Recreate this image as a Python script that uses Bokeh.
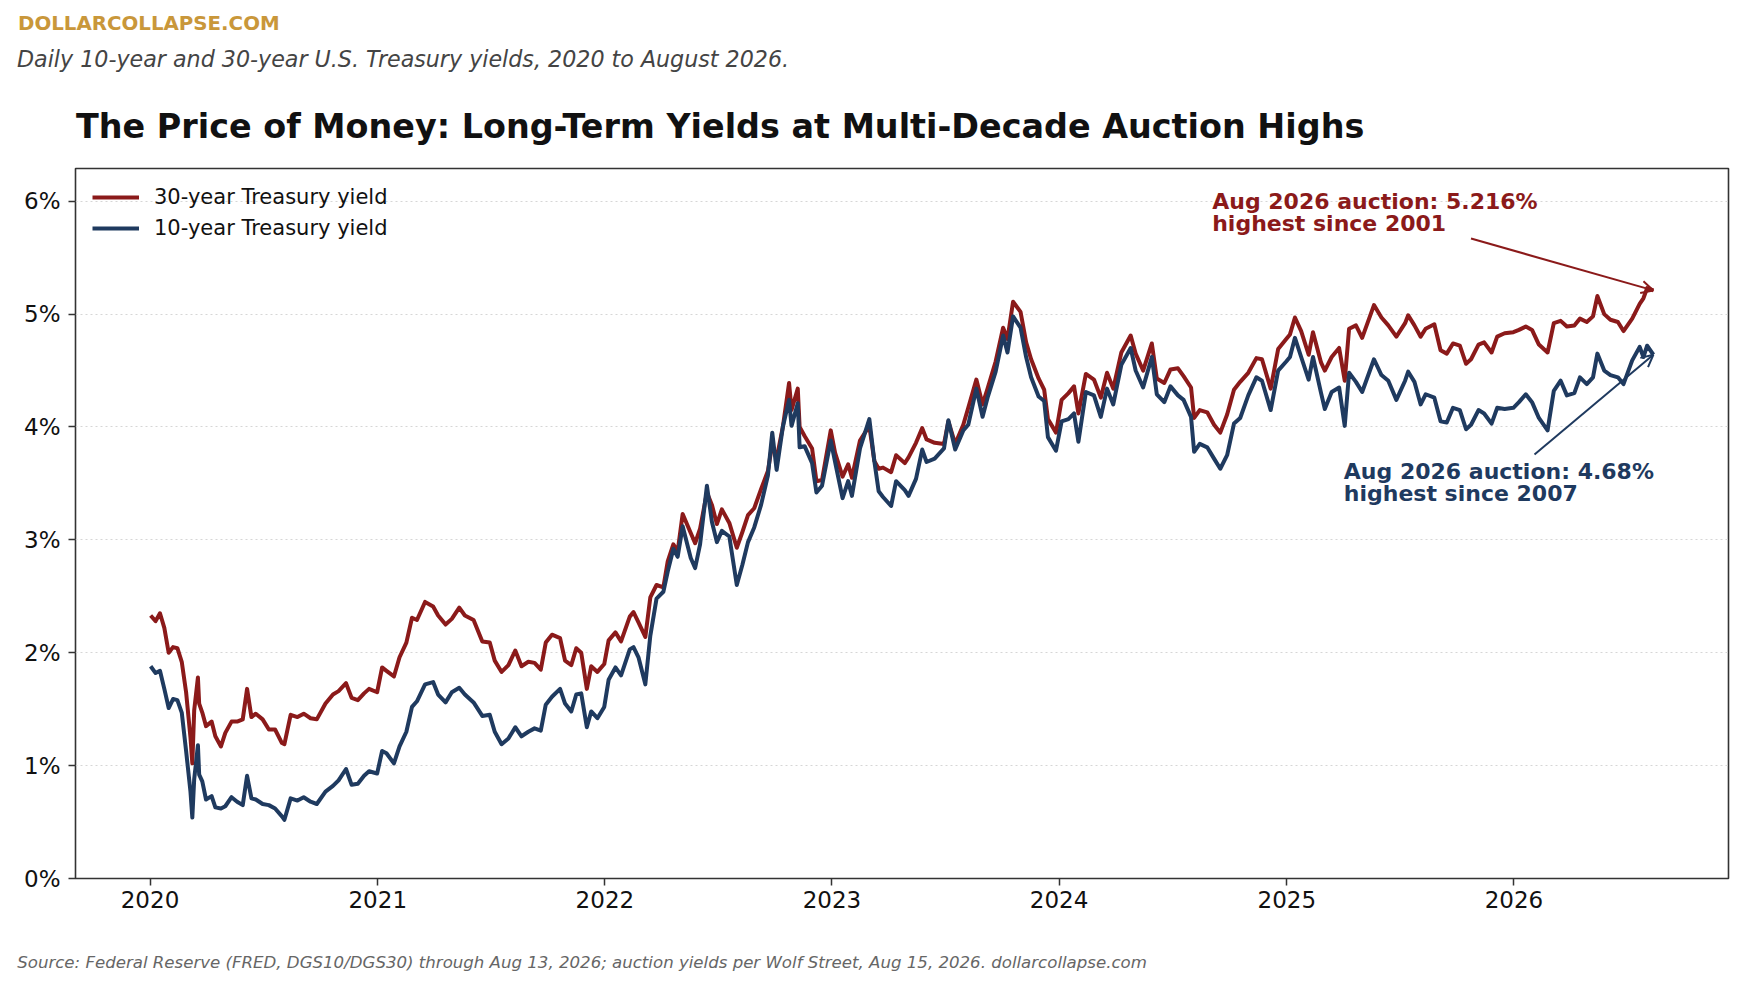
import pandas as pd
from bokeh.plotting import figure
from bokeh.models import (Range1d, FixedTicker, PrintfTickFormatter, Label,
                          Arrow, OpenHead, Title)
from bokeh.embed import file_html
from bokeh.resources import INLINE

# ---------------- data ----------------
dates = [
    # 2020
    "2020-01-02", "2020-01-10", "2020-01-17", "2020-01-24", "2020-01-31",
    "2020-02-07", "2020-02-14", "2020-02-21", "2020-02-28",
    "2020-03-06", "2020-03-09", "2020-03-12", "2020-03-18", "2020-03-20", "2020-03-25", "2020-03-31",
    "2020-04-09", "2020-04-15", "2020-04-24",
    "2020-05-01", "2020-05-11", "2020-05-20", "2020-05-29",
    "2020-06-05", "2020-06-12", "2020-06-19", "2020-06-30",
    "2020-07-10", "2020-07-20", "2020-07-31",
    "2020-08-04", "2020-08-14", "2020-08-25",
    "2020-09-04", "2020-09-15", "2020-09-25",
    "2020-10-09", "2020-10-21", "2020-10-30",
    "2020-11-11", "2020-11-20", "2020-11-30",
    "2020-12-10", "2020-12-18", "2020-12-31",
    # 2021
    "2021-01-08", "2021-01-15", "2021-01-27", "2021-02-05", "2021-02-16", "2021-02-25",
    "2021-03-05", "2021-03-18", "2021-03-31", "2021-04-08", "2021-04-20", "2021-04-30",
    "2021-05-12", "2021-05-21", "2021-06-04", "2021-06-18", "2021-06-30",
    "2021-07-08", "2021-07-19", "2021-07-30", "2021-08-10", "2021-08-20", "2021-08-31",
    "2021-09-10", "2021-09-20", "2021-09-28", "2021-10-08", "2021-10-21", "2021-10-29",
    "2021-11-08", "2021-11-16", "2021-11-24", "2021-12-03", "2021-12-10", "2021-12-20", "2021-12-31",
    # 2022
    "2022-01-07", "2022-01-18", "2022-01-27", "2022-02-10", "2022-02-16", "2022-02-24",
    "2022-03-07", "2022-03-15", "2022-03-25", "2022-04-05", "2022-04-12", "2022-04-21", "2022-04-28",
    "2022-05-06", "2022-05-19", "2022-05-26", "2022-06-03", "2022-06-14", "2022-06-22", "2022-06-30",
    "2022-07-08", "2022-07-20", "2022-08-01", "2022-08-10", "2022-08-19", "2022-08-29",
    "2022-09-09", "2022-09-20", "2022-09-27", "2022-10-04", "2022-10-14", "2022-10-24", "2022-10-28",
    "2022-11-07", "2022-11-10", "2022-11-18", "2022-11-30", "2022-12-07", "2022-12-16", "2022-12-30",
    # 2023
    "2023-01-06", "2023-01-18", "2023-01-27", "2023-02-02", "2023-02-15",
    "2023-03-02", "2023-03-10", "2023-03-17", "2023-03-24", "2023-04-06", "2023-04-14", "2023-04-28",
    "2023-05-04", "2023-05-16", "2023-05-26", "2023-06-02", "2023-06-15", "2023-06-30",
    "2023-07-07", "2023-07-18", "2023-07-31", "2023-08-08", "2023-08-21", "2023-08-31",
    "2023-09-08", "2023-09-21", "2023-10-03", "2023-10-10", "2023-10-19", "2023-10-31",
    "2023-11-09", "2023-11-17", "2023-11-29", "2023-12-08", "2023-12-14", "2023-12-27",
    # 2024
    "2024-01-05", "2024-01-16", "2024-01-25", "2024-02-01", "2024-02-13", "2024-02-26",
    "2024-03-08", "2024-03-18", "2024-03-28", "2024-04-10", "2024-04-25",
    "2024-05-03", "2024-05-15", "2024-05-29", "2024-06-06", "2024-06-18", "2024-06-28",
    "2024-07-10", "2024-07-19", "2024-07-31", "2024-08-05", "2024-08-14", "2024-08-26",
    "2024-09-06", "2024-09-16", "2024-09-27", "2024-10-08", "2024-10-18", "2024-10-31",
    "2024-11-13", "2024-11-22", "2024-12-06", "2024-12-18", "2024-12-31",
    # 2025
    "2025-01-06", "2025-01-14", "2025-01-24", "2025-02-05", "2025-02-12", "2025-02-25",
    "2025-03-03", "2025-03-14", "2025-03-26", "2025-04-04", "2025-04-11", "2025-04-22",
    "2025-05-02", "2025-05-21", "2025-06-02", "2025-06-13", "2025-06-26",
    "2025-07-10", "2025-07-15", "2025-07-25", "2025-08-04", "2025-08-12", "2025-08-26",
    "2025-09-05", "2025-09-15", "2025-09-25", "2025-10-06", "2025-10-16", "2025-10-24",
    "2025-11-05", "2025-11-14", "2025-11-26", "2025-12-05", "2025-12-17", "2025-12-31",
    # 2026
    "2026-01-09", "2026-01-20", "2026-01-30", "2026-02-10", "2026-02-24",
    "2026-03-06", "2026-03-17", "2026-03-27", "2026-04-08", "2026-04-17", "2026-04-28",
    "2026-05-08", "2026-05-15", "2026-05-26", "2026-06-05", "2026-06-17", "2026-06-26",
    "2026-07-10", "2026-07-22", "2026-07-28", "2026-08-03", "2026-08-13",
]

yield_10y = [
    # 2020
    1.88, 1.82, 1.84, 1.68, 1.51, 1.59, 1.58, 1.47, 1.13,
    0.77, 0.54, 0.88, 1.18, 0.92, 0.86, 0.70, 0.73, 0.63, 0.62,
    0.64, 0.72, 0.68, 0.65, 0.91, 0.71, 0.70, 0.66, 0.65, 0.62, 0.55,
    0.52, 0.71, 0.69, 0.72, 0.68, 0.66, 0.77, 0.82, 0.87, 0.97, 0.83, 0.84,
    0.91, 0.95, 0.93,
    # 2021
    1.13, 1.11, 1.02, 1.17, 1.30, 1.52, 1.57, 1.72, 1.74, 1.63, 1.56, 1.65,
    1.69, 1.63, 1.56, 1.44, 1.45, 1.30, 1.19, 1.24, 1.34, 1.26, 1.30,
    1.33, 1.31, 1.54, 1.61, 1.68, 1.55, 1.48, 1.63, 1.64, 1.34, 1.48, 1.42, 1.52,
    # 2022
    1.76, 1.87, 1.80, 2.03, 2.05, 1.96, 1.72, 2.15, 2.48, 2.54, 2.72, 2.92, 2.85,
    3.12, 2.84, 2.75, 2.96, 3.48, 3.16, 2.98, 3.08, 3.03, 2.60, 2.78, 2.98, 3.11,
    3.31, 3.57, 3.95, 3.62, 4.00, 4.24, 4.01, 4.21, 3.82, 3.83, 3.68, 3.42, 3.48, 3.88,
    # 2023
    3.69, 3.37, 3.52, 3.39, 3.81, 4.07, 3.70, 3.43, 3.38, 3.30, 3.52, 3.44,
    3.39, 3.54, 3.80, 3.69, 3.72, 3.81, 4.06, 3.80, 3.97, 4.02, 4.34, 4.09,
    4.26, 4.49, 4.81, 4.66, 4.98, 4.88, 4.62, 4.44, 4.27, 4.23, 3.91, 3.79,
    # 2024
    4.05, 4.07, 4.12, 3.87, 4.31, 4.28, 4.09, 4.34, 4.20, 4.55, 4.70,
    4.50, 4.35, 4.62, 4.29, 4.22, 4.36, 4.28, 4.24, 4.09, 3.78, 3.85, 3.82,
    3.72, 3.63, 3.75, 4.03, 4.08, 4.28, 4.44, 4.41, 4.15, 4.50, 4.58,
    # 2025
    4.62, 4.79, 4.62, 4.42, 4.62, 4.30, 4.16, 4.31, 4.35, 4.01, 4.48, 4.40,
    4.31, 4.60, 4.46, 4.41, 4.24, 4.41, 4.49, 4.40, 4.20, 4.29, 4.26,
    4.05, 4.04, 4.17, 4.15, 3.98, 4.02, 4.15, 4.12, 4.03, 4.17, 4.16, 4.17,
    # 2026
    4.22, 4.29, 4.22, 4.08, 3.97, 4.32, 4.41, 4.28, 4.30, 4.44, 4.38,
    4.44, 4.65, 4.50, 4.46, 4.44, 4.38, 4.59, 4.71, 4.62, 4.72, 4.64,
]

yield_30y = [
    # 2020
    2.33, 2.28, 2.35, 2.22, 2.00, 2.05, 2.04, 1.92, 1.65,
    1.25, 1.02, 1.49, 1.78, 1.55, 1.47, 1.35, 1.39, 1.26, 1.17,
    1.29, 1.39, 1.39, 1.41, 1.68, 1.43, 1.46, 1.41, 1.32, 1.32, 1.20,
    1.19, 1.45, 1.43, 1.46, 1.42, 1.41, 1.55, 1.63, 1.66, 1.73, 1.60, 1.58,
    1.64, 1.68, 1.65,
    # 2021
    1.87, 1.84, 1.79, 1.96, 2.09, 2.31, 2.29, 2.45, 2.41, 2.33, 2.25, 2.30,
    2.40, 2.33, 2.29, 2.10, 2.09, 1.93, 1.83, 1.89, 2.02, 1.88, 1.92,
    1.91, 1.85, 2.09, 2.16, 2.13, 1.93, 1.89, 2.04, 2.00, 1.68, 1.88, 1.83, 1.90,
    # 2022
    2.11, 2.18, 2.10, 2.32, 2.36, 2.27, 2.14, 2.49, 2.60, 2.58, 2.81, 2.96, 2.90,
    3.23, 3.06, 2.97, 3.10, 3.42, 3.31, 3.14, 3.27, 3.15, 2.93, 3.07, 3.22, 3.28,
    3.45, 3.61, 3.85, 3.72, 4.00, 4.39, 4.15, 4.34, 4.00, 3.92, 3.81, 3.52, 3.53, 3.97,
    # 2023
    3.77, 3.56, 3.67, 3.55, 3.88, 4.01, 3.70, 3.63, 3.64, 3.60, 3.75, 3.68,
    3.73, 3.86, 3.99, 3.89, 3.86, 3.85, 4.05, 3.85, 4.02, 4.17, 4.42, 4.20,
    4.34, 4.58, 4.88, 4.78, 5.11, 5.02, 4.75, 4.60, 4.43, 4.33, 4.07, 3.95,
    # 2024
    4.24, 4.30, 4.36, 4.12, 4.47, 4.42, 4.26, 4.48, 4.34, 4.66, 4.81,
    4.65, 4.50, 4.74, 4.43, 4.39, 4.51, 4.52, 4.45, 4.35, 4.08, 4.15, 4.13,
    4.02, 3.95, 4.11, 4.33, 4.40, 4.48, 4.61, 4.60, 4.34, 4.69, 4.78,
    # 2025
    4.82, 4.97, 4.85, 4.64, 4.84, 4.57, 4.50, 4.62, 4.70, 4.41, 4.87, 4.90,
    4.79, 5.08, 4.97, 4.90, 4.80, 4.92, 4.99, 4.90, 4.80, 4.87, 4.91,
    4.68, 4.65, 4.74, 4.72, 4.56, 4.60, 4.73, 4.75, 4.66, 4.80, 4.83, 4.84,
    # 2026
    4.86, 4.89, 4.86, 4.73, 4.66, 4.92, 4.94, 4.89, 4.90, 4.96, 4.93,
    4.98, 5.16, 5.00, 4.95, 4.93, 4.85, 4.96, 5.09, 5.14, 5.23, 5.21,
]

tick_years = [2020, 2021, 2022, 2023, 2024, 2025, 2026]
tick_pcts = [0, 1, 2, 3, 4, 5, 6]

label_30 = "30-year Treasury yield"
label_10 = "10-year Treasury yield"
note_30 = ["Aug 2026 auction: 5.216%", "highest since 2001"]
note_10 = ["Aug 2026 auction: 4.68%", "highest since 2007"]
brand = "DOLLARCOLLAPSE.COM"
subtitle = "Daily 10-year and 30-year U.S. Treasury yields, 2020 to August 2026."
title = "The Price of Money: Long-Term Yields at Multi-Decade Auction Highs"
source = ("Source: Federal Reserve (FRED, DGS10/DGS30) through Aug 13, 2026; auction yields per "
          "Wolf Street, Aug 15, 2026. dollarcollapse.com")

assert len(dates) == len(yield_10y) == len(yield_30y)

# ---------------- styling ----------------
RED = "#8B1A1A"
BLUE = "#1F3A5F"
GOLD = "#C9973A"
FONT = "DejaVu Sans"

t = pd.to_datetime(dates)
pad = (t.max() - t.min()) * 0.05

p = figure(x_axis_type="datetime", output_backend="svg", toolbar_location=None,
           frame_width=1653, frame_height=710,
           min_border_left=75, min_border_right=8, min_border_top=168, min_border_bottom=0,
           x_range=Range1d(t.min() - pad, t.max() + pad),
           y_range=Range1d(0, 6.29),
           background_fill_color="white", border_fill_color="white")

p.line(t, yield_30y, line_color=RED, line_width=4, line_join="round", legend_label=label_30)
p.line(t, yield_10y, line_color=BLUE, line_width=4, line_join="round", legend_label=label_10)

year_ms = [pd.Timestamp(f"{y}-01-01").value / 1e6 for y in tick_years]
p.xaxis.ticker = FixedTicker(ticks=year_ms)
p.xaxis.major_label_overrides = {ms: str(y) for ms, y in zip(year_ms, tick_years)}
p.yaxis.ticker = FixedTicker(ticks=tick_pcts)
p.yaxis.formatter = PrintfTickFormatter(format="%d%%")
for ax in (p.xaxis, p.yaxis):
    ax.axis_line_color = None
    ax.major_tick_line_color = "#333333"
    ax.major_tick_line_width = 1.5
    ax.major_tick_out = 7
    ax.major_tick_in = 0
    ax.minor_tick_line_color = None
    ax.major_label_text_font = FONT
    ax.major_label_text_font_size = "23px"
    ax.major_label_text_color = "#111111"
p.xaxis.major_label_standoff = 5
p.yaxis.major_label_standoff = 8

p.xgrid.grid_line_color = None
p.ygrid.grid_line_color = "#d6d6d6"
p.ygrid.grid_line_dash = "2 3"
p.ygrid.grid_line_width = 1

p.outline_line_color = "#333333"
p.outline_line_width = 1.6

lg = p.legend[0]
lg.location = "top_left"
lg.margin = 7
lg.padding = 10
lg.spacing = 7
lg.glyph_width = 47
lg.glyph_height = 20
lg.label_standoff = 15
lg.label_text_font = FONT
lg.label_text_font_size = "21px"
lg.label_text_color = "#111111"
lg.border_line_alpha = 0
lg.background_fill_alpha = 0


def add_label(x, y, text, size, color):
    p.add_layout(Label(x=x, y=y, x_units="screen", y_units="screen", text=text,
                       text_font=FONT, text_font_size=size, text_font_style="bold",
                       text_color=color, text_align="left", text_baseline="alphabetic"))


# annotations (screen units relative to the frame; y measured up from its bottom)
add_label(1136.7, 677.4, note_30[0], "22px", RED)
add_label(1136.7, 654.7, note_30[1], "22px", RED)
add_label(1268.3, 407.0, note_10[0], "22px", BLUE)
add_label(1268.3, 384.7, note_10[1], "22px", BLUE)

last_ms = t.max().value / 1e6
p.add_layout(Arrow(end=OpenHead(size=12, line_color=RED, line_width=2),
                   x_start=1395.5, y_start=640, start_units="screen",
                   x_end=last_ms, y_end=yield_30y[-1], end_units="data",
                   line_color=RED, line_width=2))
p.add_layout(Arrow(end=OpenHead(size=12, line_color=BLUE, line_width=2),
                   x_start=1459, y_start=424, start_units="screen",
                   x_end=last_ms, y_end=yield_10y[-1], end_units="data",
                   line_color=BLUE, line_width=2))


# header / footer as Title panels (not clipped by the frame)
def make_title(text, size, color, style, standoff, offset, valign="bottom"):
    return Title(text=text, align="left", offset=offset, standoff=standoff,
                 vertical_align=valign, text_font=FONT, text_font_size=size,
                 text_font_style=style, text_color=color)


p.add_layout(make_title(title, "33.4px", "#111111", "bold", 46, 0.5), "above")
p.add_layout(make_title(subtitle, "22.2px", "#444444", "italic", 19, -58.5), "above")
p.add_layout(make_title(brand, "19.8px", GOLD, "bold", 0, -57.5), "above")

p.add_layout(make_title(" ", "1px", "#ffffff", "normal", 37, 0), "below")
p.add_layout(make_title(source, "16.6px", "#666666", "italic", 0, -58.3), "below")

open("out.html", "w").write(file_html(p, INLINE))
